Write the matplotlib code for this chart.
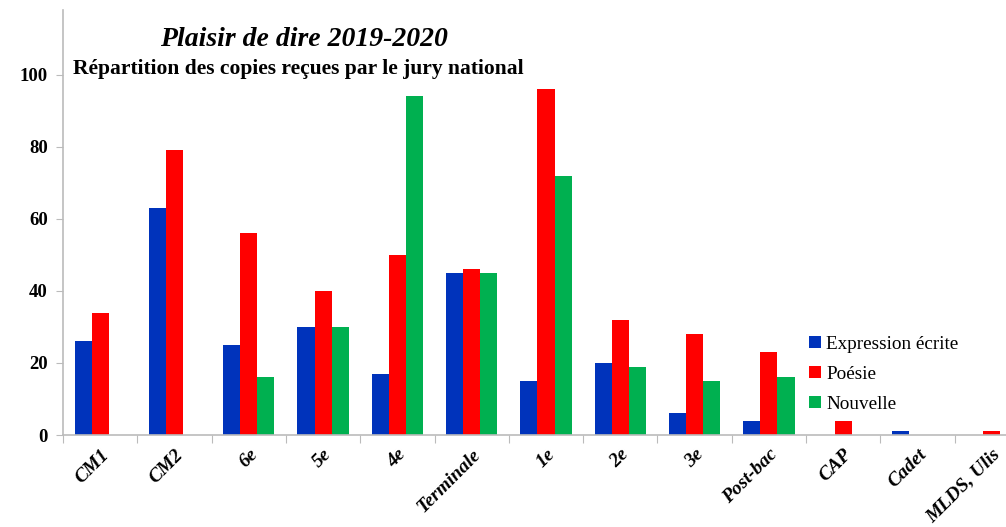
import matplotlib
matplotlib.use("Agg")
import matplotlib.pyplot as plt
import numpy as np

categories = ["CM1", "CM2", "6e", "5e", "4e", "Terminale", "1e", "2e", "3e",
              "Post-bac", "CAP", "Cadet", "MLDS, Ulis"]
expression = [26, 63, 25, 30, 17, 45, 15, 20, 6, 4, 0, 1, 0]
poesie = [34, 79, 56, 40, 50, 46, 96, 32, 28, 23, 4, 0, 1]
nouvelle = [0, 0, 16, 30, 94, 45, 72, 19, 15, 16, 0, 0, 0]
series_names = ["Expression écrite", "Poésie", "Nouvelle"]
colors = ["#0033BB", "#FF0000", "#00B050"]
yticks = [0, 20, 40, 60, 80, 100]

plt.rcParams['font.family'] = ['Liberation Serif', 'DejaVu Serif']

fig = plt.figure(figsize=(10.06, 5.27), dpi=100)
W, H = 1006, 527
x0, x1 = 63, 1029
y0, y1 = 435, 10
ax = fig.add_axes([x0 / W, 1 - y0 / H, (x1 - x0) / W, (y0 - y1) / H])

x = np.arange(len(categories))
w = 0.23
for i, (vals, name, c) in enumerate(zip([expression, poesie, nouvelle], series_names, colors)):
    ax.bar(x + (i - 1) * w, vals, width=w, color=c, label=name)

ax.set_xlim(-0.5, len(categories) - 0.5)
ax.set_ylim(0, 118)
ax.set_yticks(yticks)
ax.set_yticklabels([str(v) for v in yticks], fontsize=13.5, fontweight='bold')
ax.set_xticks(np.arange(len(categories) + 1) - 0.5, minor=False)
ax.set_xticklabels([])
ax.set_xticks(x, minor=True)
ax.set_xticklabels(categories, minor=True, rotation=45, ha='right', va='top',
                   rotation_mode='anchor', fontsize=14, fontweight='bold', fontstyle='italic')
ax.tick_params(axis='x', which='minor', length=0, pad=8)
ax.tick_params(axis='x', which='major', length=6, color='#BBBBBB', direction='out')
ax.tick_params(axis='y', length=5, color='#BBBBBB', direction='out', pad=6)

for s in ['top', 'right']:
    ax.spines[s].set_visible(False)
for s in ['left', 'bottom']:
    ax.spines[s].set_color('#BBBBBB')
    ax.spines[s].set_linewidth(1.2)

fig.text(304 / W, 1 - 40 / H, "Plaisir de dire 2019-2020", ha='center', va='center',
         fontsize=20, fontweight='bold', fontstyle='italic')
fig.text(73 / W, 1 - 69 / H, "Répartition des copies reçues par le jury national",
         ha='left', va='center', fontsize=15.5, fontweight='bold')

leg = ax.legend(loc='upper left', bbox_to_anchor=((809 - x0) / (x1 - x0), 1 - (336 - y1) / (y0 - y1)),
                frameon=False, fontsize=13.8, handlelength=0.6, handleheight=0.6,
                handletextpad=0.3, labelspacing=0.68, borderaxespad=0, borderpad=0)

fig.savefig("out.png", dpi=100)
